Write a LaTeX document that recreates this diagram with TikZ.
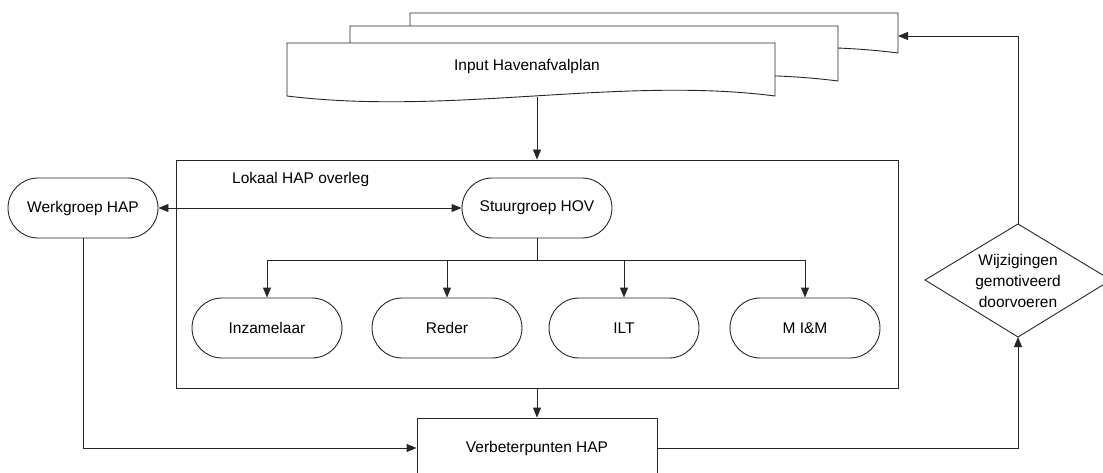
\documentclass[tikz,border=0pt]{standalone}
\usepackage{fontspec}
\setmainfont{Liberation Sans}
\usetikzlibrary{arrows.meta}
\tikzset{
  ln/.style={line width=0.9pt, draw=black!85},
  arr/.style={ln, -{Triangle[length=10pt,width=8pt]}},
  darr/.style={ln, {Triangle[length=10pt,width=8pt]}-{Triangle[length=10pt,width=8pt]}},
  term/.style={ln, rounded corners=30pt, minimum width=150pt, minimum height=60pt, inner sep=0pt, fill=white},
  docshape/.style={ln, fill=white},
  txt/.style={font=\fontsize{15.5}{21}\selectfont, inner sep=0pt}
}
\begin{document}
\begin{tikzpicture}[x=1pt,y=-1pt]
\useasboundingbox (0,0) rectangle (1103,473);
% document stack
\draw[docshape] (410,13) -- (898,13) -- (898,53) .. controls (743,33) and (573,73) .. (410,53) -- cycle;
\draw[docshape] (350,26) -- (838,26) -- (838,81) .. controls (683,61) and (513,101) .. (350,81) -- cycle;
\draw[docshape] (287,43) -- (775,43) -- (775,96) .. controls (620,76) and (450,116) .. (287,96) -- cycle;
\node[txt] (input) at (527,66) {Input Havenafvalplan};
\coordinate (docbot) at (537,97);
\coordinate (docright) at (898,36);
% local box
\node[ln, minimum width=722pt, minimum height=228pt, inner sep=0pt] (lokaal) at (537,274) {};
\node[txt, anchor=west] (lokaallabel) at (232,179) {Lokaal HAP overleg};
% terminals
\node[term, txt] (werk) at (83,208) {Werkgroep HAP};
\node[term, txt, minimum width=150pt, minimum height=60pt] (stuur) at (537,208) {Stuurgroep HOV};
\node[term, txt, minimum width=150pt, minimum height=60pt] (inz) at (267,328) {Inzamelaar};
\node[term, txt, minimum width=150pt, minimum height=60pt] (rdr) at (447,328) {Reder};
\node[term, txt, minimum width=150pt, minimum height=60pt] (ilt) at (624,328) {ILT};
\node[term, txt, minimum width=150pt, minimum height=60pt] (mim) at (805,328) {M I\&M};
% verbeterpunten
\node[ln, txt, minimum width=240pt, minimum height=60pt] (verb) at (537,448) {Verbeterpunten HAP};
% diamond
\coordinate (dtop) at (1018,224);
\coordinate (dbot) at (1018,337);
\coordinate (dleft) at (925,280);
\coordinate (dright) at (1111,280);
\draw[ln] (dtop) -- (dright) -- (dbot) -- (dleft) -- cycle;
\node[txt, align=center] (wijz) at (1018,281) {Wijzigingen\\gemotiveerd\\doorvoeren};
% connectors
\draw[arr] (docbot) -- (lokaal.north);
\draw[darr] (werk.east) -- (stuur.west);
\draw[ln] (stuur.south) -- ++(0,22) coordinate (bar);
\draw[arr] (bar) -| (inz.north);
\draw[arr] (bar) -| (rdr.north);
\draw[arr] (bar) -| (ilt.north);
\draw[arr] (bar) -| (mim.north);
\draw[arr] (lokaal.south) -- (verb.north);
\draw[arr] (werk.south) |- (verb.west);
\draw[arr] (verb.east) -| (dbot);
\draw[arr] (dtop) |- (docright);
\end{tikzpicture}
\end{document}
